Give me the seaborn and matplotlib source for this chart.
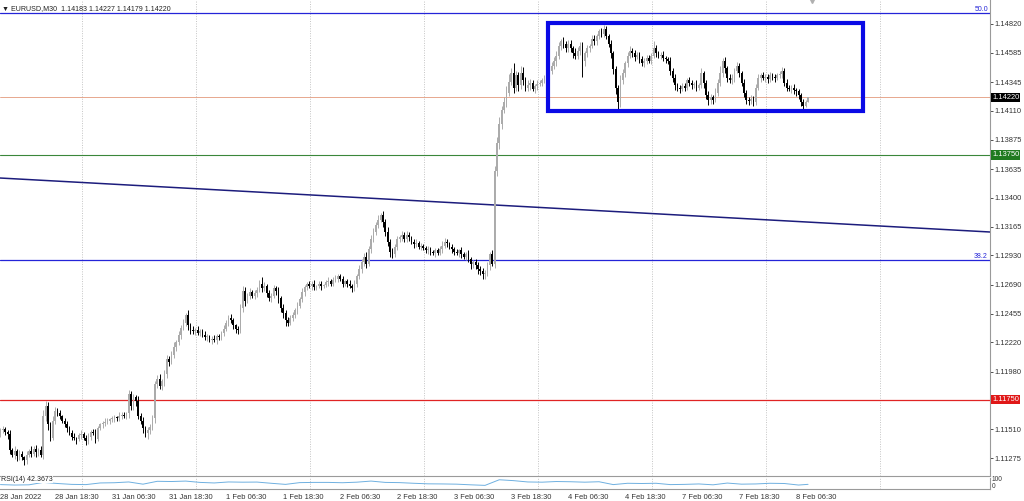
import numpy as np
import pandas as pd
import seaborn as sns
import matplotlib.pyplot as plt
import matplotlib.transforms as mtransforms
from matplotlib.patches import Rectangle

symbol_info = "▼ EURUSD,M30  1.14183 1.14227 1.14179 1.14220"

# M30 closes, in pips above 1.1100 (one row = 24 bars = 12 hours)
first_open = 48
close_pips = [
    50, 51, 49, 47, 34, 30, 33, 29, 31, 28, 26, 30, 33, 31, 35, 32, 34, 30, 62, 70, 55, 44, 58, 66,
    64, 62, 58, 55, 52, 48, 45, 44, 43, 46, 47, 44, 41, 45, 49, 48, 43, 52, 55, 56, 57, 58, 59, 60,
    61, 60, 62, 63, 62, 64, 80, 70, 77, 74, 62, 58, 52, 48, 50, 53, 60, 88, 92, 86, 90, 96, 108, 106,
    112, 118, 122, 128, 134, 138, 144, 136, 132, 131, 132, 130, 131, 128, 126, 127, 124, 125, 124, 127, 126, 130, 133, 138,
    142, 140, 136, 133, 132, 150, 164, 156, 160, 163, 160, 162, 165, 170, 166, 168, 162, 158, 160, 166, 164, 158, 150, 146,
    140, 138, 142, 144, 148, 152, 157, 163, 167, 170, 168, 170, 167, 168, 170, 168, 169, 171, 172, 170, 173, 174, 176, 174,
    170, 172, 170, 168, 166, 170, 176, 182, 188, 192, 186, 198, 206, 212, 218, 222, 226, 220, 212, 204, 196, 194, 200, 206,
    208, 210, 206, 210, 208, 204, 202, 203, 200, 201, 199, 197, 198, 196, 195, 197, 195, 198, 201, 204, 203, 200, 198, 196,
    195, 197, 194, 192, 194, 190, 186, 188, 185, 182, 180, 178, 179, 185, 194, 186, 262, 285, 300, 312, 318, 326, 335, 342,
    330, 340, 332, 342, 336, 330, 332, 334, 329, 331, 333, 334, 336, 337, 336, 344, 348, 352, 356, 364, 368, 366, 362, 366,
    362, 358, 356, 360, 364, 352, 358, 362, 364, 370, 368, 372, 376, 374, 378, 372, 366, 358, 345, 330, 318, 336, 342, 350,
    356, 360, 358, 355, 357, 353, 350, 352, 354, 352, 356, 362, 358, 356, 357, 354, 353, 352, 344, 338, 332, 330, 329, 331,
    330, 336, 334, 332, 333, 330, 332, 342, 334, 324, 320, 322, 320, 326, 334, 342, 352, 346, 338, 336, 338, 344, 348, 342,
    334, 326, 320, 319, 321, 318, 330, 338, 340, 338, 339, 337, 340, 339, 338, 340, 341, 344, 334, 330, 329, 330, 328, 327,
    324, 318, 315, 318.3, 322,
]
# wick lengths in pips
wick_up = [
    2, 3, 2, 1, 3, 2, 4, 2, 3, 2, 1, 3, 2, 4, 2, 3, 2, 3, 5, 4, 3, 2, 4, 3,
    2, 3, 1, 2, 3, 2, 2, 3, 1, 2, 3, 2, 2, 3, 1, 2, 3, 2, 1, 2, 3, 2, 1, 2,
    2, 1, 3, 2, 2, 1, 3, 2, 3, 2, 4, 2, 3, 2, 3, 2, 3, 2, 3, 4, 2, 3, 4, 3,
    3, 4, 2, 3, 2, 3, 2, 4, 2, 3, 2, 3, 2, 2, 3, 2, 1, 2, 3, 2, 2, 1, 3, 2,
    2, 3, 2, 1, 2, 3, 4, 3, 2, 3, 2, 3, 2, 3, 5, 3, 2, 3, 2, 3, 2, 3, 2, 3,
    2, 3, 2, 3, 2, 3, 2, 3, 2, 1, 2, 2, 3, 1, 2, 2, 1, 2, 3, 2, 2, 3, 2, 2,
    2, 1, 2, 3, 2, 3, 2, 3, 2, 3, 4, 3, 4, 3, 2, 4, 2, 3, 3, 4, 2, 3, 2, 3,
    2, 3, 2, 3, 2, 1, 2, 3, 2, 2, 1, 2, 3, 2, 1, 2, 2, 3, 4, 3, 2, 1, 2, 2,
    2, 1, 3, 2, 2, 3, 2, 1, 2, 3, 2, 3, 2, 3, 2, 3, 4, 5, 6, 3, 4, 5, 6, 4,
    8, 4, 3, 6, 5, 3, 4, 3, 2, 2, 3, 2, 2, 3, 2, 4, 3, 3, 4, 3, 2, 3, 2, 3,
    3, 2, 4, 3, 3, 3, 2, 3, 2, 3, 3, 2, 2, 3, 3, 2, 2, 3, 2, 3, 2, 4, 3, 2,
    3, 4, 2, 3, 2, 2, 3, 2, 3, 3, 2, 6, 3, 2, 2, 3, 2, 2, 3, 2, 3, 2, 2, 3,
    3, 2, 3, 2, 2, 3, 2, 4, 2, 2, 3, 3, 2, 4, 3, 6, 2, 3, 2, 3, 3, 2, 3, 2,
    2, 3, 2, 2, 3, 2, 3, 3, 2, 3, 2, 2, 3, 2, 2, 2, 3, 3, 2, 3, 2, 2, 3, 2,
    2, 2, 3, 2, 0.7,
]
wick_down = [
    3, 2, 3, 4, 3, 2, 3, 4, 3, 2, 4, 3, 2, 3, 2, 4, 3, 2, 3, 4, 5, 3, 2, 3,
    2, 3, 2, 2, 3, 2, 3, 2, 4, 2, 3, 2, 3, 2, 3, 2, 3, 2, 2, 3, 2, 2, 3, 2,
    3, 2, 2, 3, 2, 3, 4, 3, 3, 4, 3, 3, 4, 3, 5, 3, 3, 4, 3, 2, 3, 4, 3, 3,
    2, 3, 3, 2, 3, 2, 3, 4, 3, 2, 3, 2, 3, 2, 2, 3, 2, 3, 2, 3, 2, 2, 3, 2,
    3, 2, 3, 3, 3, 2, 3, 4, 2, 3, 2, 3, 3, 2, 3, 2, 3, 2, 3, 2, 3, 4, 3, 4,
    5, 3, 2, 3, 2, 3, 2, 2, 3, 2, 2, 3, 2, 2, 2, 3, 2, 2, 3, 2, 2, 2, 3, 2,
    3, 2, 3, 2, 3, 2, 3, 2, 3, 4, 3, 2, 3, 2, 2, 3, 2, 4, 3, 3, 4, 3, 2, 3,
    2, 3, 2, 2, 3, 2, 3, 2, 2, 3, 2, 2, 3, 3, 2, 3, 2, 2, 3, 2, 3, 2, 3, 3,
    2, 3, 3, 2, 3, 2, 4, 3, 3, 4, 3, 4, 4, 3, 4, 2, 3, 4, 5, 4, 3, 4, 3, 3,
    4, 3, 5, 3, 4, 3, 3, 4, 2, 3, 3, 2, 3, 2, 3, 2, 3, 3, 4, 3, 3, 4, 3, 3,
    3, 4, 3, 3, 3, 13, 4, 3, 3, 2, 3, 3, 2, 3, 3, 2, 3, 4, 4, 5, 6, 4, 3, 3,
    3, 2, 3, 3, 2, 3, 2, 3, 3, 2, 3, 2, 3, 2, 3, 2, 3, 3, 4, 3, 4, 3, 3, 2,
    3, 2, 3, 3, 2, 3, 2, 2, 4, 3, 4, 3, 3, 2, 3, 3, 3, 4, 3, 2, 3, 3, 2, 3,
    3, 4, 3, 3, 2, 3, 2, 2, 3, 2, 3, 3, 2, 3, 3, 2, 2, 3, 3, 3, 2, 3, 3, 4,
    3, 3, 3, 0.4, 0.4,
]

rsi_bars = list(range(0, 337, 6)) + [340]
rsi_vals = [40, 36, 38, 60, 50, 42, 40, 55, 57, 64,
            44, 70, 68, 72, 60, 55, 64, 62, 63, 52,
            42, 58, 60, 60, 57, 62, 72, 60, 58, 52,
            47, 46, 44, 38, 33, 84, 76, 64, 62, 68,
            66, 62, 66, 40, 52, 50, 52, 40, 42, 46,
            38, 54, 44, 46, 52, 50, 36, 42.37]

date_labels = ["28 Jan 2022", "28 Jan 18:30", "31 Jan 06:30", "31 Jan 18:30", "1 Feb 06:30",
               "1 Feb 18:30", "2 Feb 06:30", "2 Feb 18:30", "3 Feb 06:30", "3 Feb 18:30",
               "4 Feb 06:30", "4 Feb 18:30", "7 Feb 06:30", "7 Feb 18:30", "8 Feb 06:30"]
date_label_bars = [0, 23, 47, 71, 95, 119, 143, 167, 191, 215, 239, 263, 287, 311, 335]
grid_bars = [34.3, 82.3, 130.3, 178.5, 226.3, 274.3, 322.3, 370.3]

price_ticks = [1.14820, 1.14585, 1.14345, 1.14110, 1.13875, 1.13635, 1.13400, 1.13165,
               1.12930, 1.12690, 1.12455, 1.12220, 1.11980, 1.11510, 1.11275]

fib_50, fib_382 = 1.14910, 1.12892
green_level, red_level, bid = 1.13750, 1.11750, 1.14220
trend_bars, trend_prices = [-0.2, 416.6], [1.13562, 1.13121]
box_bars, box_prices = [230.7, 363.0], [1.14109, 1.14828]

sns.set_style("white")
plt.rcParams['font.family'] = ['Liberation Sans', 'DejaVu Sans']

df = pd.DataFrame({"bar": np.arange(len(close_pips))})
df["close"] = 1.11 + np.array(close_pips) / 1e4
df["open"] = np.r_[1.11 + first_open / 1e4, df["close"].values[:-1]]
df["high"] = np.maximum(df.open, df.close) + np.array(wick_up) / 1e4
df["low"] = np.minimum(df.open, df.close) - np.array(wick_down) / 1e4
colors = np.where(df.close >= df.open, "#ababab", "#000000")

fig = plt.figure(figsize=(10.24, 5.01), dpi=100)
ax = fig.add_axes([0, 25 / 501, 990 / 1024, 476 / 501])
ax_rsi = fig.add_axes([0, 12 / 501, 990 / 1024, 11 / 501])

xlim = (-0.2, 416.6)
ylim = (1.11128, 1.15016)

for b in grid_bars:
    ax.axvline(b, color="#c4c4c4", lw=0.7, ls=(0, (1, 1.5)), zorder=0)
    ax_rsi.axvline(b, color="#c4c4c4", lw=0.7, ls=(0, (1, 1.5)), zorder=0)

# levels
ax.axhline(fib_50, color="#2424d8", lw=0.9, zorder=1)
ax.axhline(fib_382, color="#2424d8", lw=0.9, zorder=1)
ax.axhline(green_level, color="#3a873a", lw=0.8, zorder=1)
ax.axhline(red_level, color="#e02424", lw=0.9, zorder=1)
ax.axhline(bid, color="#e39a7c", lw=0.6, zorder=1)
ax.plot(trend_bars, trend_prices, color="#1c1c7c", lw=1.1, zorder=1)

# candles
ax.vlines(df.bar, df.low, df.high, colors=colors, lw=0.7, zorder=3)
body = np.maximum((df.close - df.open).abs(), 0.00007)
ax.bar(df.bar, body, bottom=np.minimum(df.open, df.close), width=0.72,
       color=colors, lw=0, zorder=3)

ax.add_patch(Rectangle((box_bars[0], box_prices[0]), box_bars[1] - box_bars[0],
                       box_prices[1] - box_prices[0], fill=False,
                       edgecolor="#0a0ae6", lw=3.0, zorder=4))

ax.set_xlim(*xlim)
ax.set_ylim(*ylim)
ax.set_xticks([])
ax.yaxis.tick_right()
ax.set_yticks(price_ticks)
ax.set_yticklabels([f"{p:.5f}" for p in price_ticks])
ax.tick_params(axis="y", length=2, width=0.6, pad=1, labelsize=5.4,
               colors="#333333", right=True)
for s in ["top", "left"]:
    ax.spines[s].set_visible(False)
for s in ["right", "bottom"]:
    ax.spines[s].set_color("#9a9a9a")
    ax.spines[s].set_linewidth(0.8)

yx = mtransforms.blended_transform_factory(ax.transAxes, ax.transData)
for val, bg in [(bid, "#000000"), (green_level, "#1f7a1f"), (red_level, "#e01818")]:
    ax.text(1.002, val, f"{val:.5f}", transform=yx, ha="left", va="center",
            fontsize=5.4, color="white", clip_on=False,
            bbox=dict(boxstyle="square,pad=0.15", fc=bg, ec="none"))
ax.text(988 / 990, fib_50, "50.0", transform=yx, ha="right", va="bottom",
        fontsize=5, color="#2424d8")
ax.text(988 / 990, fib_382, "38.2", transform=yx, ha="right", va="bottom",
        fontsize=5, color="#2424d8")
ax.text(0.002, 0.99, symbol_info, transform=ax.transAxes, ha="left", va="top",
        fontsize=5.1, color="#222222")
ax.plot([341.5], [1.0], transform=mtransforms.blended_transform_factory(ax.transData, ax.transAxes),
        marker="v", ms=4, color="#b0b0b0", clip_on=False)

# RSI panel
sns.lineplot(x=rsi_bars, y=rsi_vals, ax=ax_rsi, color="#6fb0e0", lw=0.7)
ax_rsi.set_xlim(*xlim)
ax_rsi.set_ylim(0, 100)
ax_rsi.set_yticks([])
ax_rsi.set_xticks(date_label_bars)
ax_rsi.set_xticklabels(date_labels, ha="left")
ax_rsi.tick_params(axis="x", length=2, width=0.6, pad=1.5, labelsize=5.4, colors="#333333")
for s in ["top", "left"]:
    ax_rsi.spines[s].set_visible(False)
for s in ["right", "bottom"]:
    ax_rsi.spines[s].set_color("#9a9a9a")
    ax_rsi.spines[s].set_linewidth(0.8)
ax_rsi.text(0.001, 0.85, "RSI(14) 42.3673", transform=ax_rsi.transAxes, ha="left",
            va="center", fontsize=5, color="#222222",
            bbox=dict(boxstyle="square,pad=0.05", fc="white", ec="none"))
ax_rsi.text(1.002, 0.9, "100", transform=ax_rsi.transAxes, ha="left", va="center",
            fontsize=4.8, color="#333333", clip_on=False)
ax_rsi.text(1.002, 0.2, "0", transform=ax_rsi.transAxes, ha="left", va="center",
            fontsize=4.8, color="#333333", clip_on=False)
ax_rsi.set_xlabel("")
ax_rsi.set_ylabel("")

fig.savefig("out.png", dpi=100)
